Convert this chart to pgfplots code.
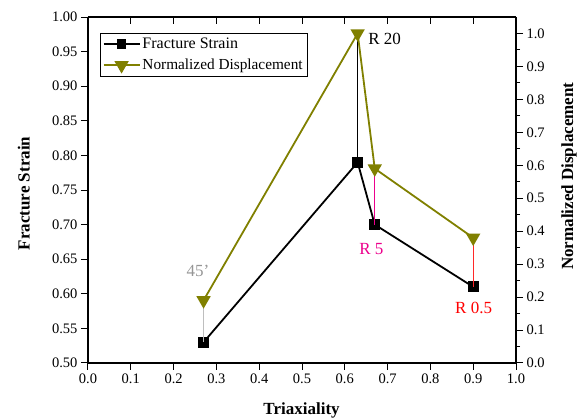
\documentclass[border=0pt]{standalone}
\usepackage{pgfplots}
\pgfplotsset{compat=1.18}
\usepackage{fontspec}
\setmainfont{Liberation Serif}

\definecolor{olivec}{RGB}{128,128,0}
\definecolor{connGray}{RGB}{190,190,190}
\definecolor{labGray}{RGB}{150,150,150}
\definecolor{connRed}{RGB}{255,40,40}

\newcommand{\labfont}{\fontsize{17}{17}\selectfont\bfseries}

\pgfplotsset{
  base/.style={
    scale only axis, width=428pt, height=346pt,
    at={(0pt,0pt)}, anchor=south west,
    xmin=0, xmax=1,
    axis line style={-, line width=1.3pt},
    every outer x axis line/.append style={-},
    every outer y axis line/.append style={-},
    /pgf/number format/assume math mode=true,
    tick style={line width=1pt, black},
    major tick length=7pt, minor tick length=4pt,
    ticklabel style={font=\fontsize{14.5}{14.5}\selectfont},
  }
}

\begin{document}
\begin{tikzpicture}
\useasboundingbox (-88pt,-57pt) rectangle (493pt,363pt);

% left axis: fracture strain
\begin{axis}[base,
  axis x line*=bottom, axis y line*=left,
  tick align=outside,
  ymin=0.5, ymax=1.0,
  xtick={0,0.1,...,1.0}, ytick={0.5,0.55,...,1.01},
  xticklabel style={/pgf/number format/.cd, fixed, fixed zerofill, precision=1},
  yticklabel style={/pgf/number format/.cd, fixed, fixed zerofill, precision=2},
  xlabel={Triaxiality}, ylabel={Fracture Strain},
  every axis x label/.style={at={(axis description cs:0.499,-0.136)}, anchor=center, font=\labfont},
  every axis y label/.style={at={(axis description cs:-0.150,0.49)}, anchor=center, rotate=90, font=\labfont},
]
\addplot[black, line width=1.8pt, mark=square*, mark size=4.5pt,
  mark options={solid}] coordinates {
  (0.27,0.53) (0.63,0.79) (0.67,0.70) (0.90,0.61)};
\node[text=labGray, font=\fontsize{17}{17}\selectfont] at (axis cs:0.257,0.633) {45'};
\end{axis}

% top axis ticks (pointing inward)
\begin{axis}[base,
  axis x line*=top, axis y line=none,
  tick align=inside,
  ymin=0.5, ymax=1.0,
  xtick={0,0.1,...,1.0}, xticklabels={},
]
\end{axis}

% right axis: normalized displacement
\begin{axis}[base,
  axis x line=none, axis y line*=right,
  tick align=outside,
  ymin=0, ymax=1.05,
  ytick={0,0.1,...,1.01}, minor y tick num=1,
  yticklabel style={/pgf/number format/.cd, fixed, fixed zerofill, precision=1},
  ylabel={Normalized Displacement},
  every axis y label/.style={at={(axis description cs:1.124,0.54)}, anchor=center, rotate=90, font=\labfont},
  legend style={at={(axis description cs:0.028,0.954)}, anchor=north west,
    draw=black, inner xsep=2.5pt, inner ysep=3pt,
    row sep=5pt, cells={anchor=west}},
  legend cell align=left,
  legend image code/.code={
    \draw[line width=1.8pt, mark repeat=2, mark phase=2]
      plot coordinates {(0pt,0pt) (18pt,0pt) (36pt,0pt)};},
]
% connectors between the two values measured on each specimen
\addplot[connGray, line width=1pt, forget plot] coordinates {(0.27,0.063) (0.27,0.19)};
\addplot[black, line width=1pt, forget plot] coordinates {(0.63,0.609) (0.63,1.0)};
\addplot[magenta, line width=1pt, forget plot] coordinates {(0.67,0.42) (0.67,0.59)};
\addplot[connRed, line width=1pt, forget plot] coordinates {(0.90,0.231) (0.90,0.38)};

\addlegendimage{black, line width=1.8pt, mark=square*, mark size=4pt}
\addlegendentry{\fontsize{16}{16}\selectfont Fracture Strain}
\addlegendimage{olivec, line width=1.8pt, mark=triangle*, mark size=6.5pt,
  mark options={rotate=180, solid}}
\addlegendentry{\fontsize{15.3}{15.3}\selectfont Normalized Displacement}

\addplot[olivec, line width=1.8pt, mark=triangle*, mark size=6.5pt,
  mark options={rotate=180, solid}, forget plot] coordinates {
  (0.27,0.19) (0.63,1.0) (0.67,0.59) (0.90,0.38)};

\node[font=\fontsize{17}{17}\selectfont] at (axis cs:0.693,0.982) {R 20};
\node[text=magenta, font=\fontsize{17}{17}\selectfont] at (axis cs:0.662,0.347) {R 5};
\node[text=red, font=\fontsize{17}{17}\selectfont] at (axis cs:0.901,0.168) {R 0.5};
\end{axis}
\end{tikzpicture}
\end{document}
